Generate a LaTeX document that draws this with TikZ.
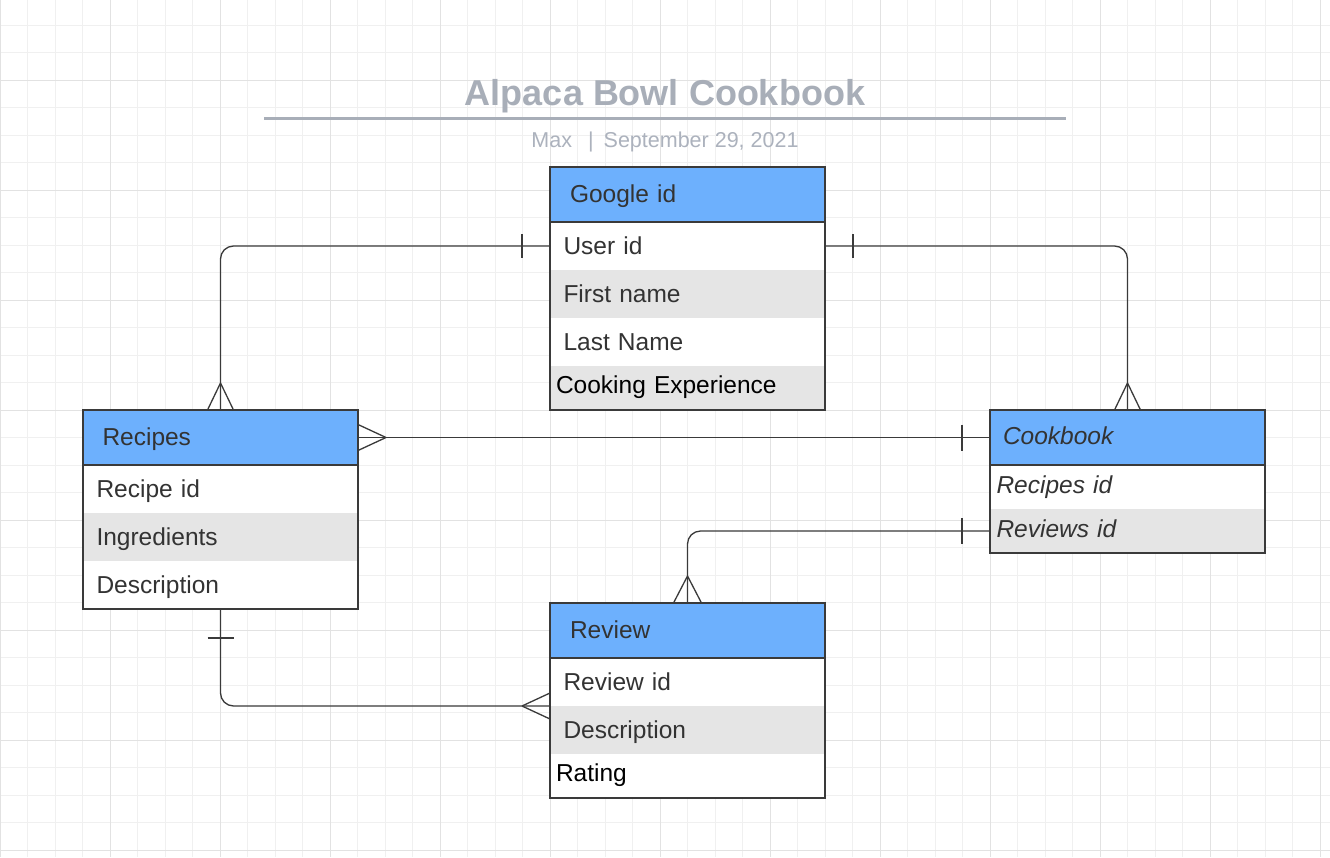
\documentclass[tikz,border=0pt]{standalone}
\usepackage{fontspec}
\setmainfont{Liberation Sans}
\definecolor{hdr}{RGB}{109,176,253}
\definecolor{rowg}{RGB}{229,229,229}
\definecolor{ink}{RGB}{51,51,51}
\definecolor{edge}{RGB}{58,58,58}
\definecolor{ttl}{RGB}{168,174,184}
\definecolor{sub}{RGB}{172,178,189}
\definecolor{gminor}{RGB}{240,240,240}
\definecolor{gmajor}{RGB}{226,226,226}
\begin{document}
\begin{tikzpicture}[x=1pt,y=-1pt,
  cell/.style={rectangle, inner sep=0pt, outer sep=0pt, anchor=north west,
    minimum width=275pt, text width=275pt, align=left,
    text height=16pt, text depth=0pt, font=\fontsize{24.5}{28}\selectfont, text=ink},
  hcell/.style={cell, fill=hdr, minimum height=55pt},
  wcell/.style={cell, fill=white, minimum height=#1},
  wcell/.default=48pt,
  gcell/.style={cell, fill=rowg, minimum height=#1},
  gcell/.default=48pt,
  itcell/.style={font=\fontsize{24.5}{28}\selectfont\itshape},
  lastrow/.style={text=black, text height=11pt},
  boxline/.style={draw=edge, line width=1.5pt},
  conn/.style={draw=edge, line width=1.3pt},
  rconn/.style={conn, rounded corners=13pt}
]
\useasboundingbox (0,0) rectangle (1330,857);
\fill[white] (0,0) rectangle (1330,857);
% grid
\foreach \k in {0,...,48} \draw[gminor, line width=0.9pt] (\k*27.5,0) -- (\k*27.5,857);
\foreach \k in {0,...,31} \draw[gminor, line width=0.9pt] (0,\k*27.5-2.5) -- (1330,\k*27.5-2.5);
\foreach \k in {0,...,12} \draw[gmajor, line width=1pt] (\k*110,0) -- (\k*110,857);
\foreach \k in {0,...,7} \draw[gmajor, line width=1pt] (0,80+\k*110) -- (1330,80+\k*110);

% title
\node[inner sep=0pt, text=ttl, font=\fontsize{36}{40}\selectfont\bfseries, anchor=base] (title) at (665,105) {Alpaca Bowl Cookbook};
\draw[ttl, line width=3pt] (264,118) -- (1066,118);
\node[inner sep=0pt, text=sub, font=\fontsize{21.5}{25}\selectfont, anchor=base] (subtitle) at (665,147) {Max\hspace{16pt}|\hspace{10pt}September 29, 2021};

% Google entity
\node[hcell] (ghead) at (550,167) {\hspace*{20pt}Google id};
\node[wcell] (guser) at (550,222) {\hspace*{13.5pt}User id};
\node[gcell] (gfirst) at (550,270) {\hspace*{13.5pt}First name};
\node[wcell] (glast) at (550,318) {\hspace*{13.5pt}Last Name};
\node[gcell=44pt, lastrow] (gcook) at (550,366) {\hspace*{6pt}Cooking Experience};
\draw[boxline] (ghead.north west) rectangle (gcook.south east);
\draw[boxline] (ghead.south west) -- (ghead.south east);

% Recipes entity
\node[hcell] (rhead) at (83,410) {\hspace*{19.5pt}Recipes};
\node[wcell] (rid) at (83,465) {\hspace*{13.5pt}Recipe id};
\node[gcell] (ring) at (83,513) {\hspace*{13.5pt}Ingredients};
\node[wcell] (rdesc) at (83,561) {\hspace*{13.5pt}Description};
\draw[boxline] (rhead.north west) rectangle (rdesc.south east);
\draw[boxline] (rhead.south west) -- (rhead.south east);

% Cookbook entity
\node[hcell, itcell, text height=14pt] (chead) at (990,410) {\hspace*{13pt}Cookbook};
\node[wcell=44pt, itcell, text height=13pt] (crec) at (990,465) {\hspace*{6.5pt}Recipes id};
\node[gcell=44pt, itcell, text height=13pt] (crev) at (990,509) {\hspace*{6.5pt}Reviews id};
\draw[boxline] (chead.north west) rectangle (crev.south east);
\draw[boxline] (chead.south west) -- (chead.south east);

% Review entity
\node[hcell] (vhead) at (550,603) {\hspace*{20pt}Review};
\node[wcell] (vid) at (550,658) {\hspace*{13.5pt}Review id};
\node[gcell] (vdesc) at (550,706) {\hspace*{13.5pt}Description};
\node[wcell=44pt, lastrow] (vrat) at (550,754) {\hspace*{6pt}Rating};
\draw[boxline] (vhead.north west) rectangle (vrat.south east);
\draw[boxline] (vhead.south west) -- (vhead.south east);

% Google -> Recipes
\draw[rconn] (guser.west) -| (rhead.north);
\draw[conn] (guser.west) ++(-28,-12) -- ++(0,24);
\draw[conn] (rhead.north) ++(0,-27) -- ++(-13,27) (rhead.north) ++(0,-27) -- ++(13,27);

% Google -> Cookbook
\draw[rconn] (guser.east) -| (chead.north);
\draw[conn] (guser.east) ++(28,-12) -- ++(0,24);
\draw[conn] (chead.north) ++(0,-27) -- ++(-13,27) (chead.north) ++(0,-27) -- ++(13,27);

% Recipes -> Cookbook
\draw[conn] (rhead.east) -- (chead.west);
\draw[conn] (rhead.east) ++(28,0) -- ++(-28,-13) (rhead.east) ++(28,0) -- ++(-28,13);
\draw[conn] (chead.west) ++(-28,-13) -- ++(0,26);

% Cookbook -> Review
\draw[rconn] (crev.west) -| (vhead.north);
\draw[conn] (crev.west) ++(-28,-13) -- ++(0,26);
\draw[conn] (vhead.north) ++(0,-27) -- ++(-14,27) (vhead.north) ++(0,-27) -- ++(14,27);

% Recipes -> Review
\draw[rconn] (rdesc.south) |- (vid.south west);
\draw[conn] (rdesc.south) ++(-13,29) -- ++(26,0);
\draw[conn] (vid.south west) ++(-28,0) -- ++(28,-13) (vid.south west) ++(-28,0) -- ++(28,13);
\end{tikzpicture}
\end{document}
